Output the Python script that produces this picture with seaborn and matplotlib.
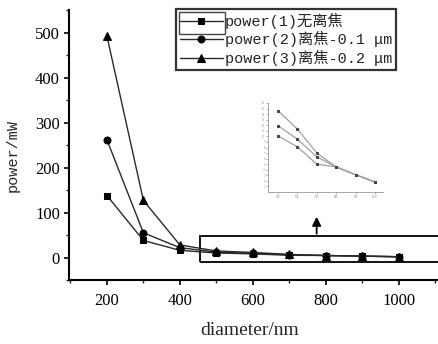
#!/usr/bin/env python3
"""Laser power vs. focal-spot diameter for three defocus settings."""

import matplotlib

matplotlib.use("Agg")
import matplotlib.pyplot as plt
import pandas as pd
import seaborn as sns
from matplotlib.patches import Rectangle

DIAMETER = [200, 300, 400, 500, 600, 700, 800, 900, 1000]
POWER_1 = [138, 38, 16, 10.1, 8.1, 5.0, 4.5, 3.1, 1.8]
POWER_2 = [262, 55, 22, 11.9, 9.5, 6.3, 4.5, 3.1, 1.8]
POWER_3 = [493, 127, 28, 14.6, 11.3, 7.0, 4.5, 3.1, 1.8]
LABELS = ["power(1)无离焦", "power(2)离焦-0.1 μm", "power(3)离焦-0.2 μm"]
MARKERS = ["s", "o", "^"]
X_TICKS = [200, 400, 600, 800, 1000]
Y_TICKS = [0, 100, 200, 300, 400, 500]

MONO_CJK = ["Liberation Mono", "Noto Sans CJK SC"]
SERIF = ["Liberation Serif", "DejaVu Serif"]


def main() -> None:
    sns.set_theme(style="ticks")
    plt.rcParams["font.family"] = SERIF

    df = pd.DataFrame({
        "diameter": DIAMETER * 3,
        "power": POWER_1 + POWER_2 + POWER_3,
        "series": sum([[lab] * len(DIAMETER) for lab in LABELS], []),
    })

    fig = plt.figure(figsize=(4.38, 3.44), dpi=100)
    W, H = 438, 344
    ax = fig.add_axes([69 / W, 1 - 280 / H, (437 - 69) / W, (280 - 10) / H])

    for lab, mk in zip(LABELS, MARKERS):
        sub = df[df["series"] == lab]
        sns.lineplot(
            data=sub, x="diameter", y="power", ax=ax, color="#2a2a2a",
            linewidth=1.0, marker=mk, markersize=5 if mk != "^" else 5.8,
            markerfacecolor="black", markeredgecolor="black", label=lab,
        )

    ax.set_xlim(96, 1105)
    ax.set_ylim(-49, 551)
    ax.set_xticks(X_TICKS)
    ax.set_yticks(Y_TICKS)
    ax.set_xticks(range(100, 1101, 100), minor=True)
    ax.set_yticks(range(-50, 551, 50), minor=True)
    ax.tick_params(which="major", length=3.5, width=1.2, labelsize=12, pad=3,
                   colors="black")
    ax.tick_params(which="minor", length=2.5, width=1.0)
    ax.tick_params(axis="x", pad=6)
    for side in ("top", "right"):
        ax.spines[side].set_visible(False)
    for side in ("left", "bottom"):
        ax.spines[side].set_linewidth(1.5)
        ax.spines[side].set_color("black")

    ax.set_xlabel("diameter/nm", fontsize=14, family=SERIF)
    ax.xaxis.set_label_coords((250 - 69) / (437 - 69), -(322 - 280) / 270)
    ax.set_ylabel("power/mW", fontsize=11, family=MONO_CJK)
    ax.yaxis.set_label_coords(-(69 - 20) / (437 - 69), (280 - 155) / 270)

    leg = ax.legend(
        loc="upper left", bbox_to_anchor=(176 / W, 1 - 9 / H),
        bbox_transform=fig.transFigure, frameon=True, fancybox=False,
        prop={"family": MONO_CJK, "size": 11}, handlelength=2.8,
        handletextpad=0.15, borderpad=0.25, labelspacing=0.15,
        borderaxespad=0,
    )
    leg.get_frame().set_edgecolor("black")
    leg.get_frame().set_linewidth(1.6)
    fig.add_artist(Rectangle((179 / W, 1 - 34 / H), 46 / W, 22 / H,
                             transform=fig.transFigure, fill=False,
                             edgecolor="#444", linewidth=1.0))

    # zoom box and arrow
    ax.add_patch(Rectangle((455, -9), 700, 56, fill=False, edgecolor="black",
                           linewidth=1.3, clip_on=False, zorder=1))
    ax.annotate("", xy=(775, 97), xytext=(775, 47),
                arrowprops=dict(arrowstyle="-|>", color="black", lw=1.3,
                                mutation_scale=13))

    # inset magnification
    ins = fig.add_axes([268 / W, 1 - 192 / H, (383 - 268) / W, (192 - 103) / H])
    tail = df[df["diameter"] >= 500]
    for lab in LABELS:
        sub = tail[tail["series"] == lab]
        sns.lineplot(data=sub, x="diameter", y="power", ax=ins, color="#a0a0a0",
                     linewidth=0.9, marker="s", markersize=2.0,
                     markerfacecolor="#444", markeredgecolor="#444", legend=False)
    ins.set_xlim(448, 1041)
    ins.set_ylim(0, 16)
    ins.set_xticks(range(500, 1001, 100))
    ins.set_yticks(range(1, 17))
    ins.tick_params(length=1.2, width=0.5, labelsize=2.2, pad=1, colors="#888")
    ins.set_xlabel("")
    ins.set_ylabel("")
    for side in ("top", "right"):
        ins.spines[side].set_visible(False)
    for side in ("left", "bottom"):
        ins.spines[side].set_linewidth(0.6)
        ins.spines[side].set_color("#999")
    ins.patch.set_alpha(0)

    fig.savefig("out.png", dpi=100)
    plt.close(fig)


if __name__ == "__main__":
    main()
